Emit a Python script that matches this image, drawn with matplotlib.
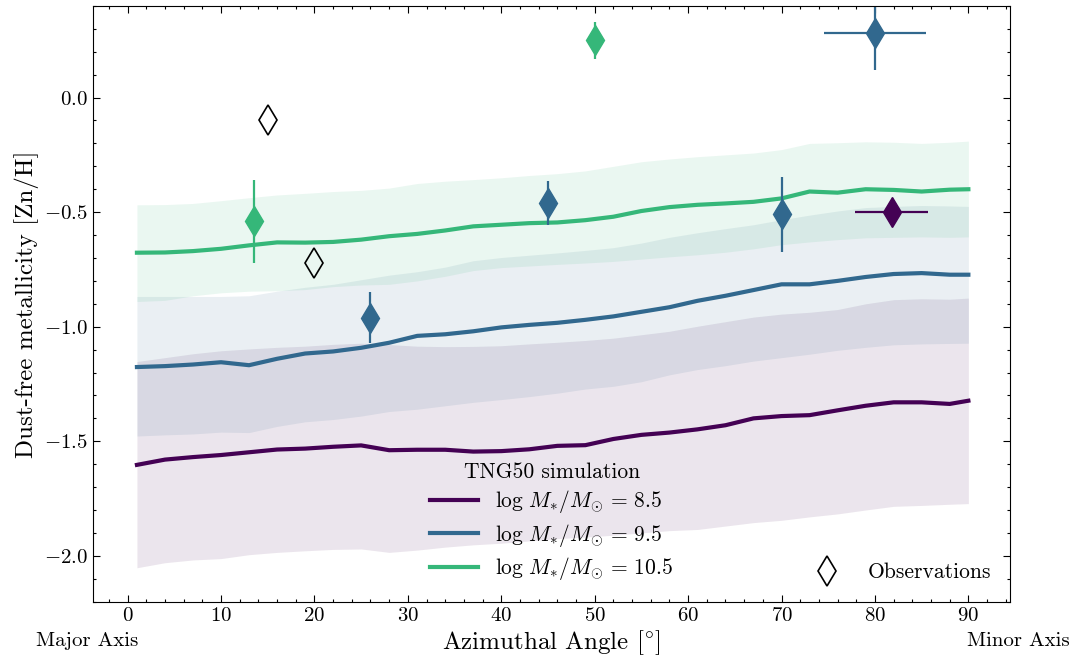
import matplotlib.pyplot as plt
from matplotlib.lines import Line2D
from matplotlib.ticker import MultipleLocator

plt.rcParams['font.family'] = 'serif'
plt.rcParams['font.serif'] = ['cmr10']
plt.rcParams['mathtext.fontset'] = 'cm'
plt.rcParams['axes.formatter.use_mathtext'] = True
plt.rcParams['axes.unicode_minus'] = True

# azimuthal angle grid of the simulation profiles
angle = [1, 4, 7, 10, 13, 16, 19, 22, 25, 28, 31, 34, 37, 40, 43, 46,
         49, 52, 55, 58, 61, 64, 67, 70, 73, 76, 79, 82, 85, 88, 90]

# log M* = 8.5
p_med = [-1.603, -1.580, -1.569, -1.560, -1.548, -1.536, -1.532, -1.524, -1.518, -1.539, -1.537,
         -1.537, -1.545, -1.543, -1.535, -1.520, -1.517, -1.490, -1.472, -1.462, -1.448, -1.430,
         -1.400, -1.390, -1.386, -1.365, -1.345, -1.330, -1.330, -1.337, -1.323]
p_hi = [-1.152, -1.135, -1.118, -1.105, -1.097, -1.090, -1.085, -1.077, -1.072, -1.078, -1.085,
        -1.087, -1.086, -1.083, -1.075, -1.068, -1.060, -1.050, -1.035, -1.020, -0.998, -0.978,
        -0.958, -0.945, -0.937, -0.925, -0.900, -0.882, -0.878, -0.880, -0.875]
p_lo = [-2.052, -2.030, -2.018, -2.012, -1.995, -1.985, -1.978, -1.972, -1.970, -1.985, -1.975,
        -1.962, -1.952, -1.945, -1.935, -1.925, -1.918, -1.910, -1.900, -1.890, -1.885, -1.870,
        -1.855, -1.845, -1.830, -1.817, -1.800, -1.784, -1.780, -1.775, -1.772]

# log M* = 9.5
b_med = [-1.176, -1.172, -1.165, -1.155, -1.168, -1.140, -1.117, -1.108, -1.092, -1.070, -1.040,
         -1.033, -1.020, -1.003, -0.992, -0.983, -0.970, -0.955, -0.935, -0.915, -0.887, -0.865,
         -0.840, -0.815, -0.815, -0.800, -0.783, -0.770, -0.766, -0.773, -0.773]
b_hi = [-0.868, -0.868, -0.868, -0.868, -0.865, -0.845, -0.828, -0.815, -0.795, -0.775, -0.760,
        -0.740, -0.712, -0.698, -0.688, -0.678, -0.667, -0.655, -0.635, -0.610, -0.590, -0.572,
        -0.555, -0.533, -0.513, -0.495, -0.480, -0.475, -0.471, -0.473, -0.475]
b_lo = [-1.477, -1.472, -1.468, -1.460, -1.462, -1.435, -1.415, -1.405, -1.390, -1.370, -1.360,
        -1.345, -1.330, -1.318, -1.305, -1.290, -1.272, -1.260, -1.240, -1.210, -1.187, -1.170,
        -1.150, -1.135, -1.120, -1.103, -1.090, -1.079, -1.075, -1.073, -1.072]

# log M* = 10.5
g_med = [-0.677, -0.676, -0.670, -0.660, -0.645, -0.632, -0.633, -0.630, -0.620, -0.605, -0.595,
         -0.580, -0.562, -0.555, -0.548, -0.545, -0.535, -0.520, -0.495, -0.478, -0.468, -0.462,
         -0.455, -0.440, -0.410, -0.415, -0.400, -0.403, -0.410, -0.402, -0.400]
g_hi = [-0.468, -0.467, -0.462, -0.450, -0.437, -0.425, -0.418, -0.410, -0.405, -0.395, -0.375,
        -0.365, -0.358, -0.350, -0.340, -0.332, -0.320, -0.300, -0.280, -0.268, -0.258, -0.250,
        -0.242, -0.227, -0.200, -0.197, -0.193, -0.195, -0.200, -0.195, -0.190]
g_lo = [-0.890, -0.885, -0.865, -0.852, -0.845, -0.843, -0.838, -0.825, -0.818, -0.815, -0.800,
        -0.780, -0.755, -0.742, -0.735, -0.728, -0.722, -0.715, -0.705, -0.695, -0.686, -0.675,
        -0.660, -0.642, -0.630, -0.620, -0.612, -0.610, -0.608, -0.610, -0.608]

# observed absorbers, coloured by host mass
p_obs_x = [81.8]
p_obs_y = [-0.50]
p_obs_xerr = [3.9]
p_obs_yerr = [0.0]

b_obs_x = [26.0, 45.0, 70.0, 80.0]
b_obs_y = [-0.96, -0.46, -0.51, 0.28]
b_obs_xerr = [0.0, 0.0, 0.0, 5.5]
b_obs_yerr = [0.11, 0.095, 0.165, 0.16]

g_obs_x = [13.5, 50.0]
g_obs_y = [-0.54, 0.25]
g_obs_xerr = [0.0, 0.0]
g_obs_yerr = [0.18, 0.08]

# observations without mass estimate
o_obs_x = [15.0, 20.0]
o_obs_y = [-0.10, -0.72]

c85, c95, c105 = '#440154', '#31688e', '#35b779'

fig = plt.figure(figsize=(10.78, 6.59), dpi=100)
ax = fig.add_axes([0.0863, 0.087, 0.851, 0.904])

ax.fill_between(angle, p_lo, p_hi, color=c85, alpha=0.1, lw=0)
ax.fill_between(angle, b_lo, b_hi, color=c95, alpha=0.1, lw=0)
ax.fill_between(angle, g_lo, g_hi, color=c105, alpha=0.1, lw=0)

l1, = ax.plot(angle, p_med, color=c85, lw=3, label=r'$\log\,M_{*}/M_{\odot}\,=\,8.5$')
l2, = ax.plot(angle, b_med, color=c95, lw=3, label=r'$\log\,M_{*}/M_{\odot}\,=\,9.5$')
l3, = ax.plot(angle, g_med, color=c105, lw=3, label=r'$\log\,M_{*}/M_{\odot}\,=\,10.5$')

for xs, ys, xe, ye, c in [(p_obs_x, p_obs_y, p_obs_xerr, p_obs_yerr, c85),
                          (b_obs_x, b_obs_y, b_obs_xerr, b_obs_yerr, c95),
                          (g_obs_x, g_obs_y, g_obs_xerr, g_obs_yerr, c105)]:
    ax.errorbar(xs, ys, xerr=xe, yerr=ye, fmt='d', color=c, ms=15,
                elinewidth=1.6, capsize=0)

ax.plot(o_obs_x, o_obs_y, 'd', mfc='none', mec='k', ms=15, mew=1.2, ls='none')

ax.set_xlim(-3.7, 94.5)
ax.set_ylim(-2.2, 0.4)

ax.xaxis.set_major_locator(MultipleLocator(10))
ax.xaxis.set_minor_locator(MultipleLocator(2))
ax.yaxis.set_major_locator(MultipleLocator(0.5))
ax.yaxis.set_minor_locator(MultipleLocator(0.1))
ax.tick_params(which='both', direction='in', top=True, right=True, labelsize=15)
ax.tick_params(which='major', length=5, width=0.8)
ax.tick_params(which='minor', length=2.5, width=0.8)

ax.set_xlabel(r'Azimuthal Angle [$^{\circ}$]', fontsize=18, labelpad=3)
ax.set_ylabel('Dust-free metallicity [Zn/H]', fontsize=18)

leg1 = ax.legend(handles=[l1, l2, l3], title='TNG50 simulation', loc='lower center',
                 bbox_to_anchor=(0.5, 0.0), frameon=False, fontsize=15.5,
                 title_fontsize=15.5, handlelength=2.2, labelspacing=0.3)
ax.add_artist(leg1)
obs_handle = Line2D([], [], marker='d', mfc='none', mec='k', ms=15, mew=1.2, ls='none')
ax.legend(handles=[obs_handle], labels=['Observations'], loc='lower right',
          frameon=False, fontsize=15.5, handletextpad=0.9)

fig.text(0.081, 0.027, 'Major Axis', ha='center', va='center', fontsize=15)
fig.text(0.945, 0.027, 'Minor Axis', ha='center', va='center', fontsize=15)

fig.savefig('out.png', dpi=100)
